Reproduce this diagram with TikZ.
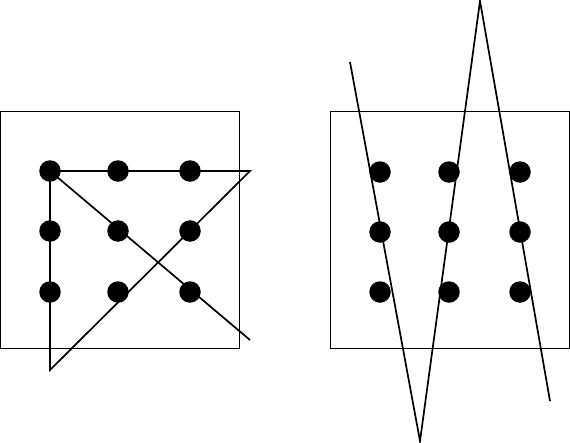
\documentclass[tikz,border=0pt]{standalone}
\usepackage{tikz}
\tikzset{
  dot/.style={circle,fill=black,inner sep=0pt,minimum size=21.5pt},
  frame/.style={line width=0.8pt,draw=black},
  stroke/.style={line width=1.7pt,draw=black,line join=miter},
}

\begin{document}
\begin{tikzpicture}[x=1pt,y=-1pt]
  \useasboundingbox (0,0) rectangle (570,442);
  % ---------- left: four strokes ----------
  \draw[frame] (0.5,111) rectangle (239,348);
  \foreach \x [count=\i] in {50,118,190} {
    \foreach \y [count=\j] in {171,231,292} {
      \node[dot] (l\i\j) at (\x,\y) {};
    }
  }
  \coordinate (lr) at (250,171);
  \coordinate (ld) at (250,340);
  \coordinate (lb) at (50,370);
  \draw[stroke] (ld) -- (l11.center) -- (lr) -- (lb) -- (l11.center);

  % ---------- right: three strokes ----------
  \draw[frame] (330,111) rectangle (569,348.5);
  \foreach \x [count=\i] in {380,449,520} {
    \foreach \y [count=\j] in {172,232,292} {
      \node[dot] (r\i\j) at (\x,\y) {};
    }
  }
  \coordinate (rs) at (350,62);
  \coordinate (rb) at (420,441);
  \coordinate (rt) at (480,1);
  \coordinate (re) at (550,401);
  \draw[stroke] (rs) -- (rb) -- (rt) -- (re);
\end{tikzpicture}
\end{document}
